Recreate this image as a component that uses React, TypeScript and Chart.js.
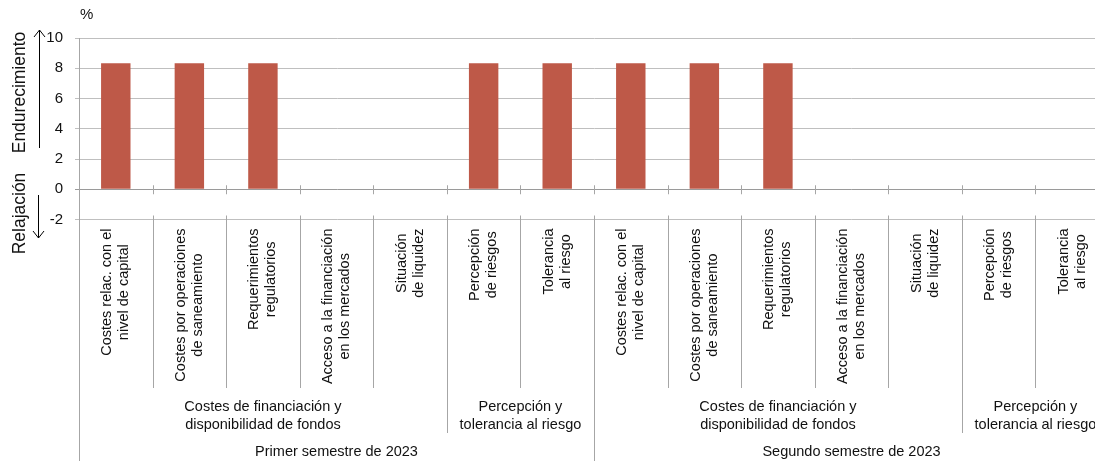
import { useEffect, useRef } from "react";
import { Chart, registerables } from "chart.js";

Chart.register(...registerables);

const FONT = '"Liberation Sans", Arial, sans-serif';

// categories, two lines each, drawn rotated under the axis
const categoryLabels: string[][] = [
  ["Costes relac. con el", "nivel de capital"],
  ["Costes por operaciones", "de saneamiento"],
  ["Requerimientos", "regulatorios"],
  ["Acceso a la financiación", "en los mercados"],
  ["Situación", "de liquidez"],
  ["Percepción", "de riesgos"],
  ["Tolerancia", "al riesgo"],
  ["Costes relac. con el", "nivel de capital"],
  ["Costes por operaciones", "de saneamiento"],
  ["Requerimientos", "regulatorios"],
  ["Acceso a la financiación", "en los mercados"],
  ["Situación", "de liquidez"],
  ["Percepción", "de riesgos"],
  ["Tolerancia", "al riesgo"],
];

const values = [8.33, 8.33, 8.33, 0, 0, 8.33, 8.33, 8.33, 8.33, 8.33, 0, 0, 0, 0];

const groupLabels: string[][] = [
  ["Costes de financiación y", "disponibilidad de fondos"],
  ["Percepción y", "tolerancia al riesgo"],
  ["Costes de financiación y", "disponibilidad de fondos"],
  ["Percepción y", "tolerancia al riesgo"],
];
const groupSpans = [
  [0, 4],
  [5, 6],
  [7, 11],
  [12, 13],
];

const semesterLabels = ["Primer semestre de 2023", "Segundo semestre de 2023"];
const semesterSpans = [
  [0, 6],
  [7, 13],
];

const yTicks = [-2, 0, 2, 4, 6, 8, 10];

const AXIS_GREY = "#A6A6A6";
const GRID_GREY = "#BFBFBF";
const TEXT = "#111111";

function arrow(ctx: CanvasRenderingContext2D, x: number, y1: number, y2: number) {
  // line from y1 to y2, head at y2
  const dir = y2 > y1 ? 1 : -1;
  ctx.beginPath();
  ctx.moveTo(x, y1);
  ctx.lineTo(x, y2);
  ctx.moveTo(x - 5.5, y2 - dir * 7);
  ctx.lineTo(x, y2);
  ctx.lineTo(x + 5.5, y2 - dir * 7);
  ctx.stroke();
}

const decorations = {
  id: "decorations",
  afterDraw(chart: Chart) {
    const { ctx, chartArea } = chart;
    const xs = chart.scales.x;
    const ys = chart.scales.y;
    const step = xs.getPixelForValue(1) - xs.getPixelForValue(0);
    const edge = (k: number) => xs.getPixelForValue(k) - step / 2;
    const y0 = ys.getPixelForValue(0);
    const bottom = chartArea.bottom;

    const groupStarts = groupSpans.map((s) => s[0]);
    const semStarts = semesterSpans.map((s) => s[0]);

    ctx.save();
    ctx.strokeStyle = AXIS_GREY;
    ctx.lineWidth = 1;

    // tick marks on the zero line
    for (let k = 1; k < categoryLabels.length; k++) {
      const x = Math.round(edge(k)) + 0.5;
      ctx.beginPath();
      ctx.moveTo(x, y0 - 4);
      ctx.lineTo(x, y0 + 5);
      ctx.stroke();
    }

    // separators under the plot
    for (let k = 0; k < categoryLabels.length; k++) {
      const x = Math.round(edge(k)) + 0.5;
      let end = 388;
      if (semStarts.includes(k)) end = 461;
      else if (groupStarts.includes(k)) end = 433;
      ctx.beginPath();
      ctx.moveTo(x, k === 0 ? bottom : bottom - 4);
      ctx.lineTo(x, end);
      ctx.stroke();
    }

    ctx.fillStyle = TEXT;
    ctx.font = `14.5px ${FONT}`;

    // rotated category labels
    const lh = 17;
    categoryLabels.forEach((lines, i) => {
      const cx = xs.getPixelForValue(i);
      const maxW = Math.max(...lines.map((l) => ctx.measureText(l).width));
      ctx.save();
      ctx.translate(cx, bottom + 9);
      ctx.rotate(-Math.PI / 2);
      ctx.textAlign = "center";
      ctx.textBaseline = "middle";
      lines.forEach((l, j) => {
        ctx.fillText(l, -maxW / 2, (j - (lines.length - 1) / 2) * lh);
      });
      ctx.restore();
    });

    // group labels
    ctx.textAlign = "center";
    ctx.textBaseline = "middle";
    groupLabels.forEach((lines, i) => {
      const [a, b] = groupSpans[i];
      const cx = (edge(a) + edge(b + 1)) / 2;
      lines.forEach((l, j) => ctx.fillText(l, cx, 407 + j * 18));
    });

    // semester labels
    semesterLabels.forEach((l, i) => {
      const [a, b] = semesterSpans[i];
      const cx = (edge(a) + edge(b + 1)) / 2;
      ctx.fillText(l, cx, 452);
    });

    // unit
    ctx.font = `15px ${FONT}`;
    ctx.textAlign = "left";
    ctx.fillText("%", chartArea.left + 1, 15);

    // side titles with arrows
    ctx.font = `17.5px ${FONT}`;
    ctx.save();
    ctx.translate(20, 92.5);
    ctx.rotate(-Math.PI / 2);
    ctx.textAlign = "center";
    ctx.fillText("Endurecimiento", 0, 0);
    ctx.restore();
    ctx.save();
    ctx.translate(20, 213.5);
    ctx.rotate(-Math.PI / 2);
    ctx.textAlign = "center";
    ctx.fillText("Relajación", 0, 0);
    ctx.restore();

    ctx.strokeStyle = "#000000";
    ctx.lineWidth = 1;
    arrow(ctx, 39.5, 148, 30);
    arrow(ctx, 38.5, 195, 238);

    ctx.restore();
  },
};

export default function App() {
  const canvasRef = useRef<HTMLCanvasElement | null>(null);
  const chartRef = useRef<Chart | null>(null);

  useEffect(() => {
    document.body.style.margin = "0";
    document.body.style.overflow = "hidden";
    if (!canvasRef.current) return;
    if (chartRef.current) chartRef.current.destroy();

    chartRef.current = new Chart(canvasRef.current, {
      type: "bar",
      data: {
        labels: categoryLabels.map((l) => l.join(" ")),
        datasets: [
          {
            data: values,
            backgroundColor: "#BE5948",
            borderWidth: 0,
            barPercentage: 0.4,
            categoryPercentage: 1,
          },
        ],
      },
      options: {
        responsive: false,
        animation: false,
        devicePixelRatio: 1,
        layout: { padding: { top: 38, right: 0, bottom: 244.5, left: 0 } },
        plugins: {
          legend: { display: false },
          tooltip: { enabled: false },
        },
        scales: {
          x: {
            display: false,
          },
          y: {
            min: yTicks[0],
            max: yTicks[yTicks.length - 1],
            afterFit: (s: any) => {
              s.width = 79;
            },
            afterBuildTicks: (s: any) => {
              s.ticks = yTicks.map((v) => ({ value: v }));
            },
            border: { display: true, color: AXIS_GREY, width: 1 },
            grid: {
              color: (c: any) => (c.tick && c.tick.value === 0 ? "#9A9A9A" : GRID_GREY),
              tickLength: 4,
              drawTicks: true,
            },
            ticks: {
              padding: 12,
              color: TEXT,
              font: { family: FONT, size: 15 },
            },
          },
        },
      },
      plugins: [decorations],
    });

    return () => {
      if (chartRef.current) {
        chartRef.current.destroy();
        chartRef.current = null;
      }
    };
  }, []);

  return (
    <div style={{ width: 1095, height: 464, overflow: "hidden", background: "#fff" }}>
      <canvas ref={canvasRef} width={1109} height={464} style={{ display: "block" }} />
    </div>
  );
}
